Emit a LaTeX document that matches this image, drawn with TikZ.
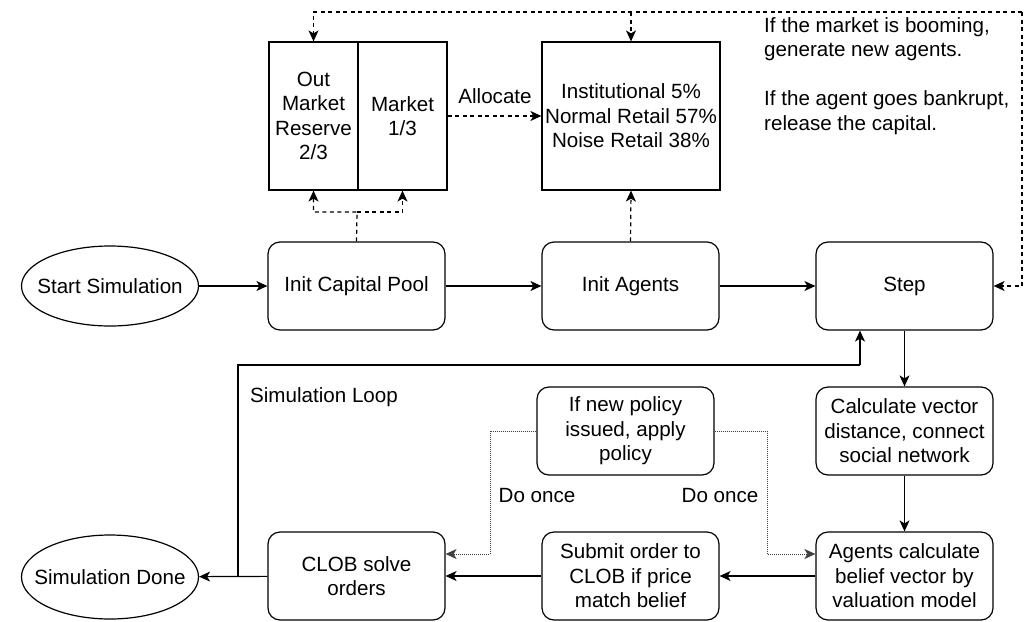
\documentclass[tikz,border=0pt]{standalone}
\usepackage{fontspec}
\setmainfont{Liberation Sans}
\usetikzlibrary{arrows.meta,shapes.geometric}

\tikzset{
  every node/.append style={font=\fontsize{20.6}{24.5}\selectfont},
  proc/.style={draw, line width=1.2pt, rounded corners=12pt, align=center,
    minimum width=177pt, minimum height=88pt, inner sep=2pt},
  term/.style={draw, line width=1.2pt, ellipse, minimum width=177pt,
    minimum height=80pt, inner sep=0pt},
  cell/.style={draw, line width=1.2pt, align=center, minimum width=89pt,
    minimum height=148pt, inner sep=1pt},
  lbl/.style={align=left, inner sep=0pt},
  tip/.style={-{Stealth[length=11pt,width=10pt,inset=3pt]}},
  flow/.style={tip, line width=1.2pt},
  wire/.style={line width=1.2pt},
  dflow/.style={tip, line width=1.2pt, dash pattern=on 4pt off 3.5pt},
  pflow/.style={tip, line width=1pt, densely dotted, black!75},
}

\begin{document}
\begin{tikzpicture}[x=1pt,y=-1pt]
\useasboundingbox (0,0) rectangle (1035,621);

% main row
\node[term, label={[lbl]center:Start Simulation}] (start) at (110,286) {};
\node[proc] (pool) at (356.5,286) {Init Capital Pool};
\node[proc] (agents) at (630.5,286) {Init Agents};
\node[proc] (step) at (904.5,286) {Step};

% capital split and agent mix
\node[cell] (reserve) at (313.5,116) {Out\\Market\\Reserve\\2/3};
\node[cell] (market) at (402.5,116) {Market\\1/3};
\node[cell, minimum width=178pt] (mix) at (631,116)
  {Institutional 5\%\\Normal Retail 57\%\\Noise Retail 38\%};
\node[lbl] (alloc) at (495,96) {Allocate};
\node[lbl, anchor=north west] (note) at (764,17)
  {If the market is booming,\\generate new agents.\\[24.5pt]If the agent goes bankrupt,\\release the capital.};

% loop body
\node[proc] (calc) at (904.5,431) {Calculate vector\\distance, connect\\social network};
\node[proc] (policy) at (625.5,431) {If new policy\\issued, apply\\policy};
\node[proc] (belief) at (904.5,576) {Agents calculate\\belief vector by\\valuation model};
\node[proc] (submit) at (630.5,576) {Submit order to\\CLOB if price\\match belief};
\node[proc] (clob) at (356.5,576) {CLOB solve\\orders};
\node[term, minimum height=84pt, label={[lbl]center:Simulation Done}] (done) at (110,577) {};

\node[lbl] (looplbl) at (324,397) {Simulation Loop};
\node[lbl] (once1) at (537,496) {Do once};
\node[lbl] (once2) at (720,496) {Do once};

% main flow
\draw[flow] (start) -- (pool);
\draw[flow] (pool) -- (agents);
\draw[flow] (agents) -- (step);
\draw[flow] (step) -- (calc);
\draw[flow] (calc) -- (belief);
\draw[flow] (belief) -- (submit);
\draw[flow] (submit) -- (clob);
\draw[flow] (clob) -- (done);

% loop back to Step
\coordinate (lj) at (238,577);
\coordinate (lc) at (860,365);
\draw[wire] (lj) |- (lc);
\draw[flow] (lc) -- (lc |- step.south);

% capital pool feeds both parts
\coordinate (split) at (357,212);
\draw[dflow] (pool.north) -- (split) -| (reserve.south);
\draw[dflow] (split) -| (market.south);
\draw[dflow] (agents.north) -- (mix.south);
\draw[dflow] (market.east |- mix.west) -- (mix.west);

% feedback from Step
\coordinate (tr) at (1022,12);
\coordinate (tm) at (631,12);
\draw[dflow] (tr) |- (step.east);
\draw[dflow] (tr) -- (reserve.north |- tr) -- (reserve.north);
\draw[dflow] (tm) -- (mix.north);

% policy application
\coordinate (pl) at (490,431);
\coordinate (pr) at (767,431);
\draw[pflow] (policy.west) -- (pl) |- ([yshift=22pt]clob.east);
\draw[pflow] (policy.east) -- (pr) |- ([yshift=22pt]belief.west);
\end{tikzpicture}
\end{document}
